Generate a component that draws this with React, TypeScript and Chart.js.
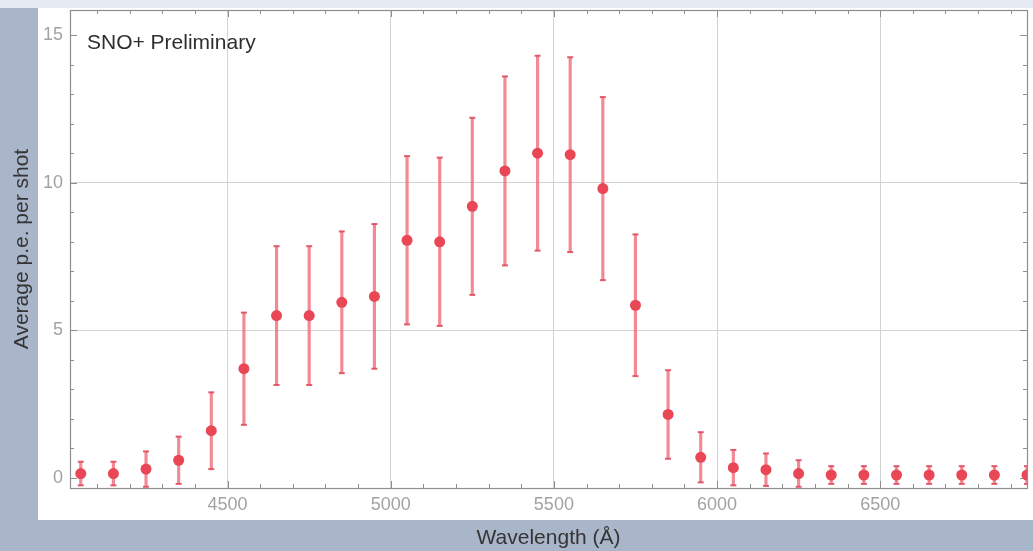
import React, { useEffect, useRef } from "react";
import { Chart, registerables } from "chart.js";

Chart.register(...registerables);

// ---- data ----
const wavelengths = [4050, 4150, 4250, 4350, 4450, 4550, 4650, 4750, 4850, 4950, 5050, 5150, 5250, 5350, 5450, 5550, 5650, 5750, 5850, 5950, 6050, 6150, 6250, 6350, 6450, 6550, 6650, 6750, 6850, 6950];
const avgPE = [0.15, 0.15, 0.3, 0.6, 1.6, 3.7, 5.5, 5.5, 5.95, 6.15, 8.05, 8.0, 9.2, 10.4, 11.0, 10.95, 9.8, 5.85, 2.15, 0.7, 0.35, 0.28, 0.15, 0.1, 0.1, 0.1, 0.1, 0.1, 0.1, 0.1];
const errPE = [0.4, 0.4, 0.6, 0.8, 1.3, 1.9, 2.35, 2.35, 2.4, 2.45, 2.85, 2.85, 3.0, 3.2, 3.3, 3.3, 3.1, 2.4, 1.5, 0.85, 0.6, 0.55, 0.45, 0.3, 0.3, 0.3, 0.3, 0.3, 0.3, 0.3];
const xMajorTicks = [4500, 5000, 5500, 6000, 6500];
const yMajorTicks = [0, 5, 10, 15];
const yGridTicks = [5, 10];
const xRange = [4017, 6950];
const yRange = [-0.34, 15.85];
const xMinorStep = 100;
const yMinorStep = 1;
const xTitle = "Wavelength (Å)";
const yTitle = "Average p.e. per shot";
const annotation = "SNO+ Preliminary";

const FONT = "'Liberation Sans', Arial, Helvetica, sans-serif";
const ptColor = "rgb(233, 70, 86)";
const barColor = "rgba(240, 104, 118, 0.78)";
const capColor = "rgba(222, 78, 94, 0.9)";
const frameColor = "#8e8e8e";
const gridColor = "#d2d2d2";

const zeroPadding = (s: any) => {
  s.paddingTop = 0;
  s.paddingBottom = 0;
  s.paddingLeft = 0;
  s.paddingRight = 0;
};

const framePlugin = {
  id: "framePlugin",
  beforeDatasetsDraw(chart: any) {
    const { ctx, chartArea: a, scales } = chart;
    const xs = scales.x;
    const ys = scales.y;
    ctx.save();
    ctx.strokeStyle = frameColor;
    ctx.lineWidth = 1;
    ctx.beginPath();
    for (let v = Math.ceil(xs.min / xMinorStep) * xMinorStep; v < xs.max; v += xMinorStep) {
      const px = Math.round(xs.getPixelForValue(v)) + 0.5;
      const len = xMajorTicks.includes(v) ? 7 : 4;
      ctx.moveTo(px, a.bottom);
      ctx.lineTo(px, a.bottom - len);
      ctx.moveTo(px, a.top);
      ctx.lineTo(px, a.top + len);
    }
    for (let v = Math.ceil(ys.min / yMinorStep) * yMinorStep; v < ys.max; v += yMinorStep) {
      const py = Math.round(ys.getPixelForValue(v)) + 0.5;
      const len = yMajorTicks.includes(v) ? 7 : 4;
      ctx.moveTo(a.left, py);
      ctx.lineTo(a.left + len, py);
      ctx.moveTo(a.right, py);
      ctx.lineTo(a.right - len, py);
    }
    ctx.stroke();
    ctx.restore();
  },
  afterDatasetsDraw(chart: any) {
    const { ctx, chartArea: a } = chart;
    ctx.save();
    ctx.strokeStyle = frameColor;
    ctx.lineWidth = 1.2;
    ctx.strokeRect(Math.round(a.left) + 0.5, Math.round(a.top) + 0.5, Math.round(a.right - a.left), Math.round(a.bottom - a.top));
    ctx.fillStyle = "#2e2e2e";
    ctx.font = `21px ${FONT}`;
    ctx.textBaseline = "alphabetic";
    ctx.textAlign = "left";
    ctx.fillText(annotation, a.left + 17, a.top + 39);
    ctx.restore();
  },
};

export default function App() {
  const ref = useRef<HTMLCanvasElement>(null);
  useEffect(() => {
    const canvas = ref.current;
    if (!canvas) return;
    const chart = new Chart(canvas, {
      type: "scatter",
      data: {
        datasets: [
          {
            type: "scatter",
            label: "mean",
            data: wavelengths.map((x, i) => ({ x, y: avgPE[i] })),
            pointRadius: 5.5,
            pointBackgroundColor: ptColor,
            pointBorderWidth: 0,
            order: 0,
            clip: 0,
          } as any,
          {
            type: "bar",
            label: "error",
            data: wavelengths.map((x, i) => ({ x, y: [avgPE[i] - errPE[i], avgPE[i] + errPE[i]] })),
            backgroundColor: barColor,
            barThickness: 2.5,
            borderWidth: 0,
            grouped: false,
            order: 2,
            clip: 0,
          } as any,
          {
            type: "scatter",
            label: "upper",
            data: wavelengths.map((x, i) => ({ x, y: avgPE[i] + errPE[i] })),
            pointStyle: "line",
            pointRadius: 3,
            pointBorderColor: capColor,
            pointBorderWidth: 2,
            order: 1,
            clip: 0,
          } as any,
          {
            type: "scatter",
            label: "lower",
            data: wavelengths.map((x, i) => ({ x, y: avgPE[i] - errPE[i] })),
            pointStyle: "line",
            pointRadius: 3,
            pointBorderColor: capColor,
            pointBorderWidth: 2,
            order: 1,
            clip: 0,
          } as any,
        ],
      },
      options: {
        responsive: false,
        animation: false,
        devicePixelRatio: 1,
        layout: { padding: { top: 10, right: 5, left: 0, bottom: 0 } },
        plugins: { legend: { display: false }, tooltip: { enabled: false } },
        scales: {
          x: {
            type: "linear",
            position: "bottom",
            min: xRange[0],
            max: xRange[1],
            bounds: "data",
            offset: false,
            afterBuildTicks: (s: any) => {
              s.ticks = xMajorTicks.map((v) => ({ value: v }));
            },
            afterFit: (s: any) => {
              s.height = 63;
              zeroPadding(s);
            },
            grid: { offset: false, drawTicks: false, color: gridColor, lineWidth: 1 },
            border: { display: false },
            ticks: {
              autoSkip: false,
              maxRotation: 0,
              padding: 6,
              color: "#a2a2a2",
              font: { family: FONT, size: 18 },
              callback: (v: any) => String(v),
            },
            title: {
              display: true,
              text: xTitle,
              color: "#353535",
              font: { family: FONT, size: 21 },
              padding: { top: 0, bottom: 0 },
            },
          },
          y: {
            type: "linear",
            min: yRange[0],
            max: yRange[1],
            bounds: "data",
            afterBuildTicks: (s: any) => {
              s.ticks = yMajorTicks.map((v) => ({ value: v }));
            },
            afterFit: (s: any) => {
              s.width = 70;
              zeroPadding(s);
            },
            grid: {
              drawTicks: false,
              lineWidth: 1,
              color: (c: any) => (c.tick && yGridTicks.includes(c.tick.value) ? gridColor : "rgba(0,0,0,0)"),
            },
            border: { display: false },
            ticks: {
              autoSkip: false,
              padding: 7,
              color: "#a2a2a2",
              font: { family: FONT, size: 18 },
              callback: (v: any) => String(v),
            },
            title: {
              display: true,
              text: yTitle,
              color: "#353535",
              font: { family: FONT, size: 21 },
              padding: { top: 10, bottom: 0 },
            },
          },
        },
      } as any,
      plugins: [framePlugin],
    });
    return () => chart.destroy();
  }, []);

  return (
    <div style={{ position: "fixed", left: 0, top: 0, width: 1033, height: 551, background: "#a9b5c9", overflow: "hidden" }}>
      <div style={{ position: "absolute", left: 0, top: 0, width: 1033, height: 8, background: "#e6ebf3" }} />
      <div style={{ position: "absolute", left: 38, top: 8, width: 995, height: 512, background: "#ffffff" }} />
      <canvas ref={ref} width={1033} height={551} style={{ position: "absolute", left: 0, top: 0, width: 1033, height: 551 }} />
    </div>
  );
}
